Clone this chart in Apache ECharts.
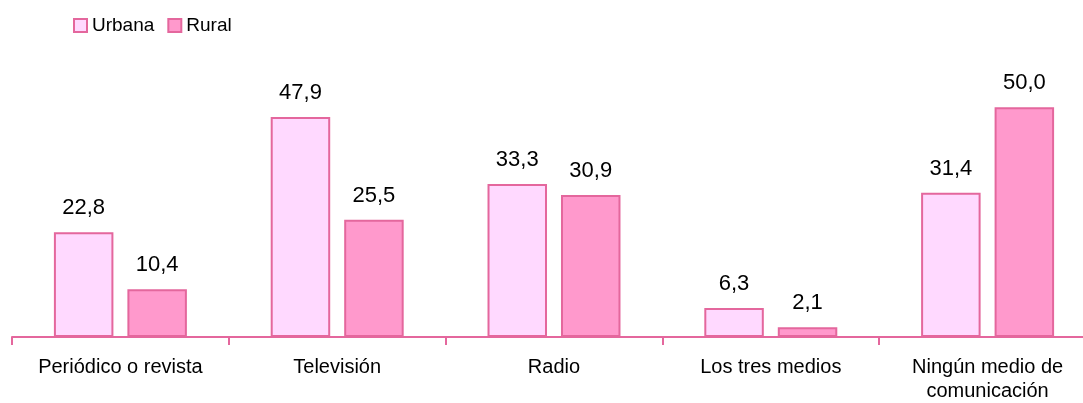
<!DOCTYPE html>
<html>
<head>
<meta charset="utf-8">
<script src="https://cdn.jsdelivr.net/npm/echarts@6/dist/echarts.min.js"></script>
<style>
html,body{margin:0;padding:0;background:#fff;overflow:hidden;}
#chart{width:1096px;height:403px;}
</style>
</head>
<body>
<div id="chart"></div>
<script>
const categories = ['Periódico o revista', 'Televisión', 'Radio', 'Los tres medios', 'Ningún medio de\ncomunicación'];
const urbana = [22.8, 47.9, 33.3, 6.3, 31.4];
const rural = [10.4, 25.5, 30.9, 2.1, 50.0];
const seriesNames = ['Urbana', 'Rural'];

const FONT = '"Liberation Sans", Arial, sans-serif';
const BORDER = '#E4679D';
const fmt = p => p.value.toFixed(1).replace('.', ',');

const chart = echarts.init(document.getElementById('chart'), null, {renderer: 'canvas'});
chart.setOption({
  animation: false,
  backgroundColor: '#ffffff',
  legend: {
    left: 73, top: 16, padding: 0,
    itemWidth: 13, itemHeight: 13, itemGap: 13,
    icon: 'rect',
    textStyle: {fontFamily: FONT, fontSize: 19, color: '#000'},
    data: seriesNames
  },
  grid: {left: 12, right: 0, top: 61.4, bottom: 65, containLabel: false},
  xAxis: {
    type: 'category',
    data: categories,
    axisLine: {lineStyle: {color: BORDER, width: 2}},
    axisTick: {show: true, length: 8, lineStyle: {color: BORDER, width: 2}},
    axisLabel: {fontFamily: FONT, fontSize: 20, color: '#000', margin: 18, lineHeight: 24, interval: 0}
  },
  yAxis: {
    type: 'value', min: 0, max: 60,
    show: false,
    splitLine: {show: false}
  },
  series: [
    {
      name: seriesNames[0], type: 'bar', data: urbana,
      barWidth: 59.5, barGap: '23.5%',
      itemStyle: {color: '#FFD9FF', borderColor: BORDER, borderWidth: 2},
      label: {show: true, position: 'top', distance: 13, formatter: fmt, fontFamily: FONT, fontSize: 22, color: '#000'}
    },
    {
      name: seriesNames[1], type: 'bar', data: rural,
      barWidth: 59.5,
      itemStyle: {color: '#FF99CC', borderColor: BORDER, borderWidth: 2},
      label: {show: true, position: 'top', distance: 13, formatter: fmt, fontFamily: FONT, fontSize: 22, color: '#000'}
    }
  ]
});
</script>
</body>
</html>
